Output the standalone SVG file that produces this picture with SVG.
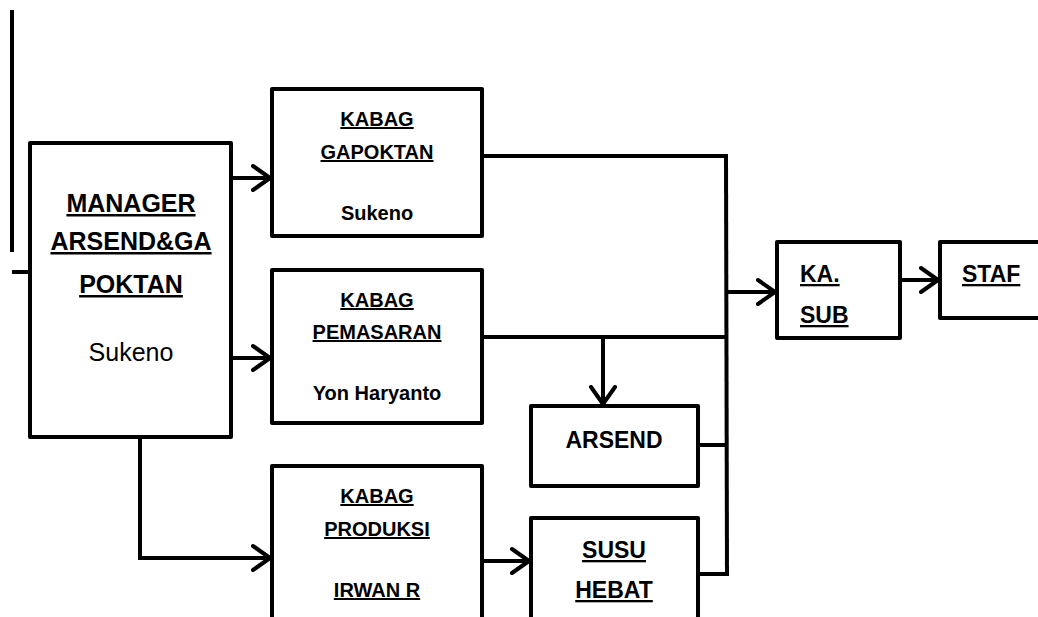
<svg xmlns="http://www.w3.org/2000/svg" width="1038" height="617" viewBox="0 0 1038 617">
<style>
.box{fill:#fff;stroke:#000;stroke-width:4;stroke-linejoin:round}
.ln{fill:none;stroke:#000;stroke-width:4}
.t{font-family:"Liberation Sans",Arial,sans-serif;font-weight:bold;fill:#000;text-anchor:middle}
.u{text-decoration:underline}
</style>
<defs>
<marker id="ah" markerUnits="userSpaceOnUse" markerWidth="24" markerHeight="30" refX="19" refY="15" orient="auto">
<path d="M2,3 L19,15 L2,27" fill="none" stroke="#000" stroke-width="4" stroke-linecap="round" stroke-linejoin="round"/>
</marker>
</defs>
<rect width="1038" height="617" fill="#fff"/>
<g id="connectors">
<line class="ln" x1="12" y1="10" x2="12" y2="252"/>
<line class="ln" x1="12" y1="272" x2="33" y2="272"/>
<line class="ln" x1="231" y1="178" x2="270" y2="178" marker-end="url(#ah)"/>
<line class="ln" x1="231" y1="358" x2="270" y2="358" marker-end="url(#ah)"/>
<polyline class="ln" points="140,437 140,558 270,558" marker-end="url(#ah)"/>
<polyline class="ln" points="482,156 726,156"/>
<line class="ln" x1="726" y1="154" x2="727" y2="576"/>
<line class="ln" x1="482" y1="337" x2="727" y2="337"/>
<line class="ln" x1="603" y1="337" x2="603" y2="404" marker-end="url(#ah)"/>
<line class="ln" x1="698" y1="445" x2="727" y2="445"/>
<line class="ln" x1="698" y1="574" x2="729" y2="574"/>
<line class="ln" x1="482" y1="561" x2="529" y2="561" marker-end="url(#ah)"/>
<line class="ln" x1="727" y1="292" x2="775" y2="292" marker-end="url(#ah)"/>
<line class="ln" x1="900" y1="280" x2="938" y2="280" marker-end="url(#ah)"/>
</g>
<g id="manager">
<rect class="box" x="30" y="143" width="201" height="294"/>
<text class="t u" x="131" y="212" font-size="25">MANAGER</text>
<text class="t u" x="131" y="250" font-size="25">ARSEND&amp;GA</text>
<text class="t u" x="131" y="293" font-size="25">POKTAN</text>
<text class="t" x="131" y="361" font-size="25" style="font-weight:normal">Sukeno</text>
</g>
<g id="kabag-gapoktan">
<rect class="box" x="272" y="89" width="210" height="147"/>
<text class="t u" x="377" y="126" font-size="20">KABAG</text>
<text class="t u" x="377" y="159" font-size="20">GAPOKTAN</text>
<text class="t" x="377" y="220" font-size="20">Sukeno</text>
</g>
<g id="kabag-pemasaran">
<rect class="box" x="272" y="270" width="210" height="153"/>
<text class="t u" x="377" y="307" font-size="20">KABAG</text>
<text class="t u" x="377" y="339" font-size="20">PEMASARAN</text>
<text class="t" x="377" y="400" font-size="20">Yon Haryanto</text>
</g>
<g id="kabag-produksi">
<rect class="box" x="272" y="466" width="210" height="170"/>
<text class="t u" x="377" y="503" font-size="20">KABAG</text>
<text class="t u" x="377" y="536" font-size="20">PRODUKSI</text>
<text class="t u" x="377" y="597" font-size="20">IRWAN R</text>
</g>
<g id="arsend">
<rect class="box" x="531" y="406" width="167" height="80"/>
<text class="t" x="614" y="448" font-size="23">ARSEND</text>
</g>
<g id="susu-hebat">
<rect class="box" x="531" y="518" width="167" height="120"/>
<text class="t u" x="614" y="558" font-size="23">SUSU</text>
<text class="t u" x="614" y="598" font-size="23">HEBAT</text>
</g>
<g id="ka-sub">
<rect class="box" x="777" y="242" width="123" height="96"/>
<text class="t u" x="800" y="282" font-size="23" style="text-anchor:start">KA.</text>
<text class="t u" x="800" y="323" font-size="23" style="text-anchor:start">SUB</text>
</g>
<g id="staf">
<rect class="box" x="940" y="242" width="120" height="76"/>
<text class="t u" x="962" y="282" font-size="23" style="text-anchor:start">STAF</text>
</g>
</svg>
